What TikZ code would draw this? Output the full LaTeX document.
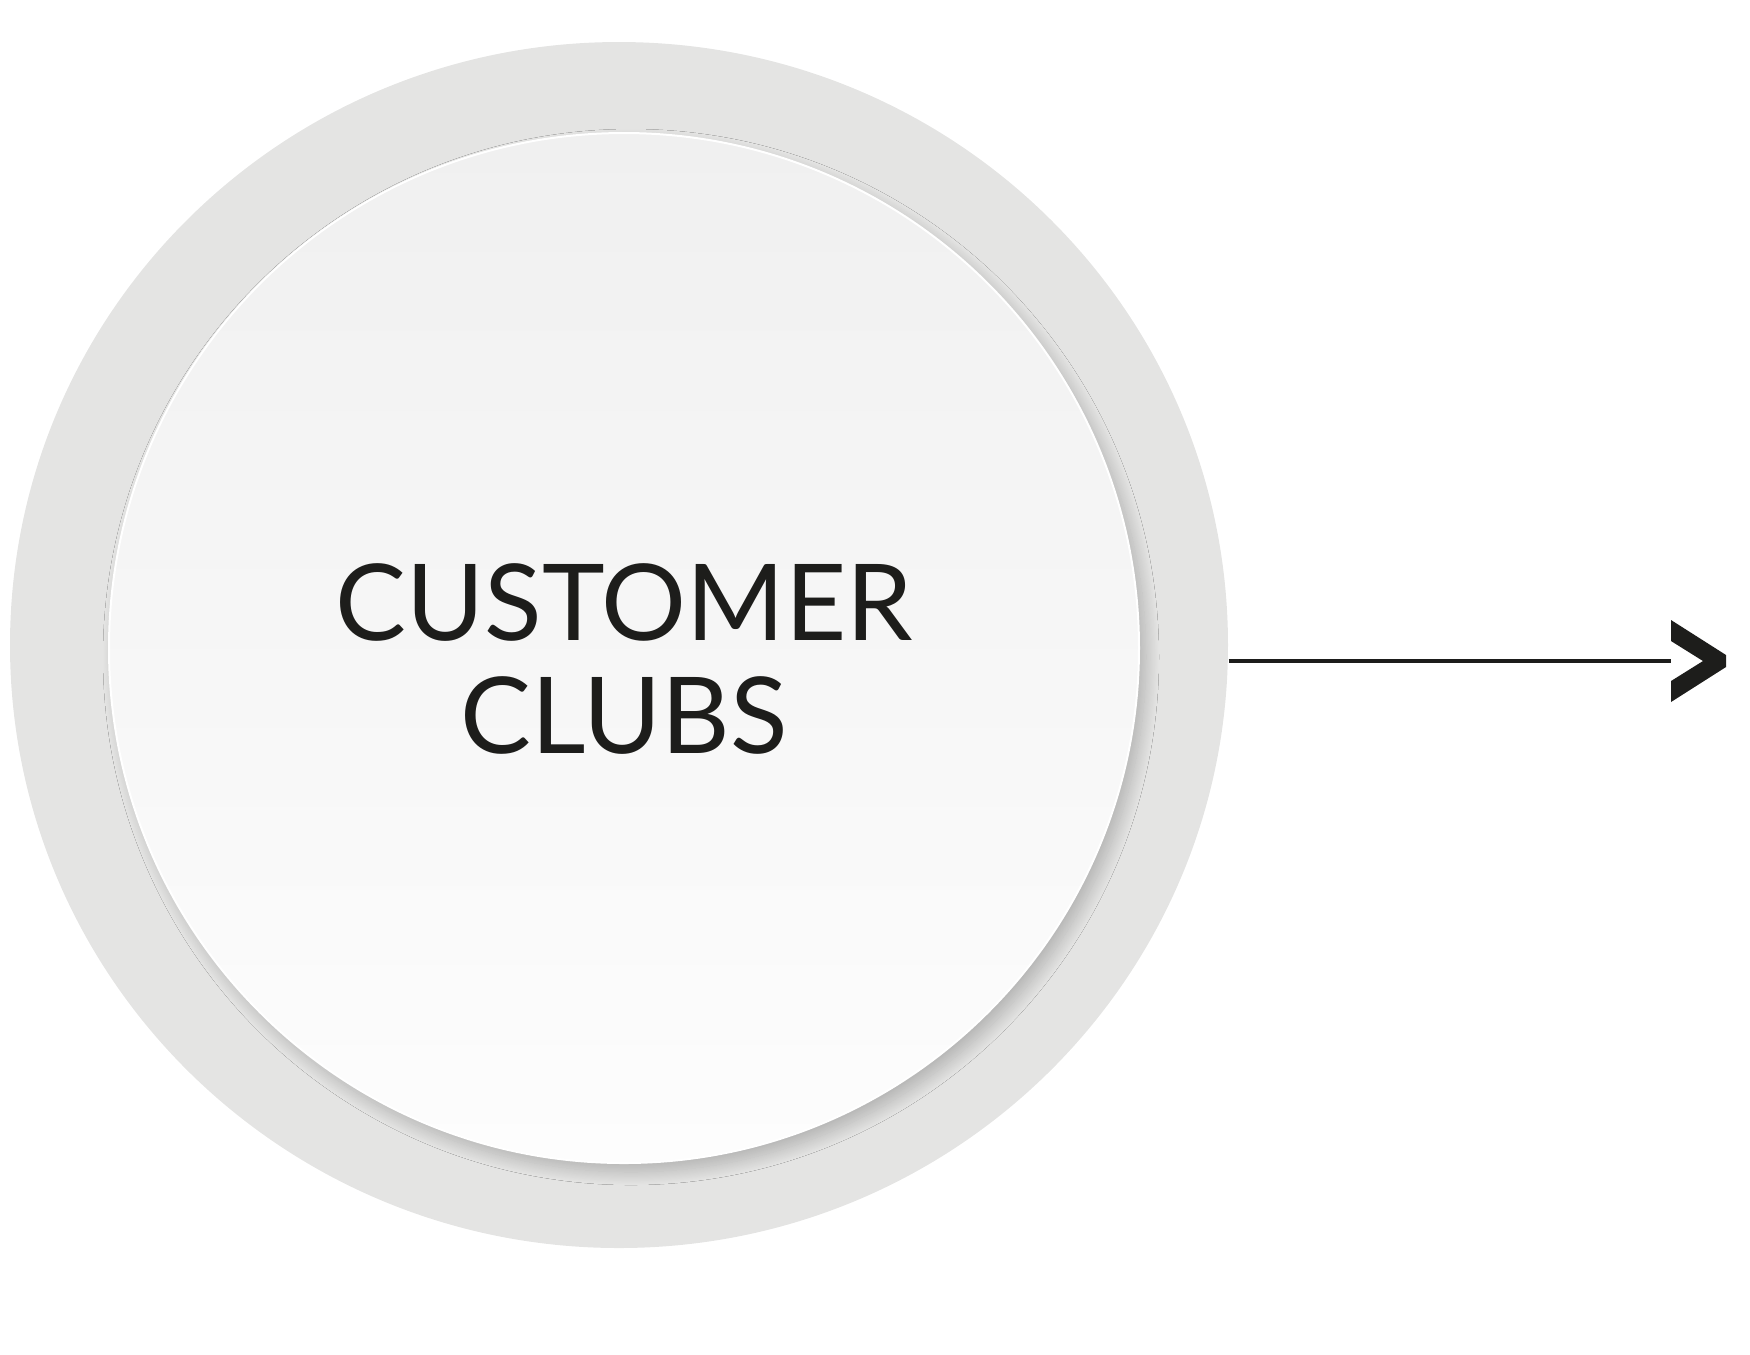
\documentclass[tikz,border=0pt]{standalone}
\usepackage{fontspec}
\setmainfont{Lato}
\usetikzlibrary{shapes.geometric,shadows.blur}
\definecolor{ringgrey}{RGB}{228,228,227}
\definecolor{clubtop}{RGB}{240,240,240}
\definecolor{clubbottom}{RGB}{253,253,253}
\definecolor{ink}{RGB}{29,29,27}
\tikzset{
  ring/.style={ellipse, fill=ringgrey, inner sep=0pt, minimum width=121.8mm, minimum height=120.6mm},
  club/.style={circle, inner sep=0pt, minimum size=103mm, top color=clubtop, bottom color=clubbottom,
    draw=white, line width=0.2mm,
    blur shadow={shadow xshift=0.7mm, shadow yshift=-0.9mm, shadow blur radius=1.3mm,
      shadow blur steps=25, shadow opacity=22}},
  clubtext/.style={align=center, inner sep=0pt, text=ink, font=\fontsize{30.2pt}{32.4pt}\selectfont},
}
\begin{document}
\begin{tikzpicture}[x=0.1mm,y=-0.1mm]
\useasboundingbox (0,0) rectangle (1750,1354);

% rings
\node (ring) [ring] at (619,645) {};
\node (club) [club] at (624,648) {};
\node (clubname) [clubtext] at (624,659) {CUSTOMER\\CLUBS};

% arrow out of the ring
\coordinate (head) at (1671,661);
\draw [ink, line width=0.4mm] (ring.east |- head) -- (head);
\fill [ink] (head) ++(0,-41) -- ++(55,35) -- ++(0,12) -- ++(-55,35) -- ++(0,-21) -- ++(32,-20) -- ++(-32,-20) -- cycle;

\end{tikzpicture}
\end{document}
